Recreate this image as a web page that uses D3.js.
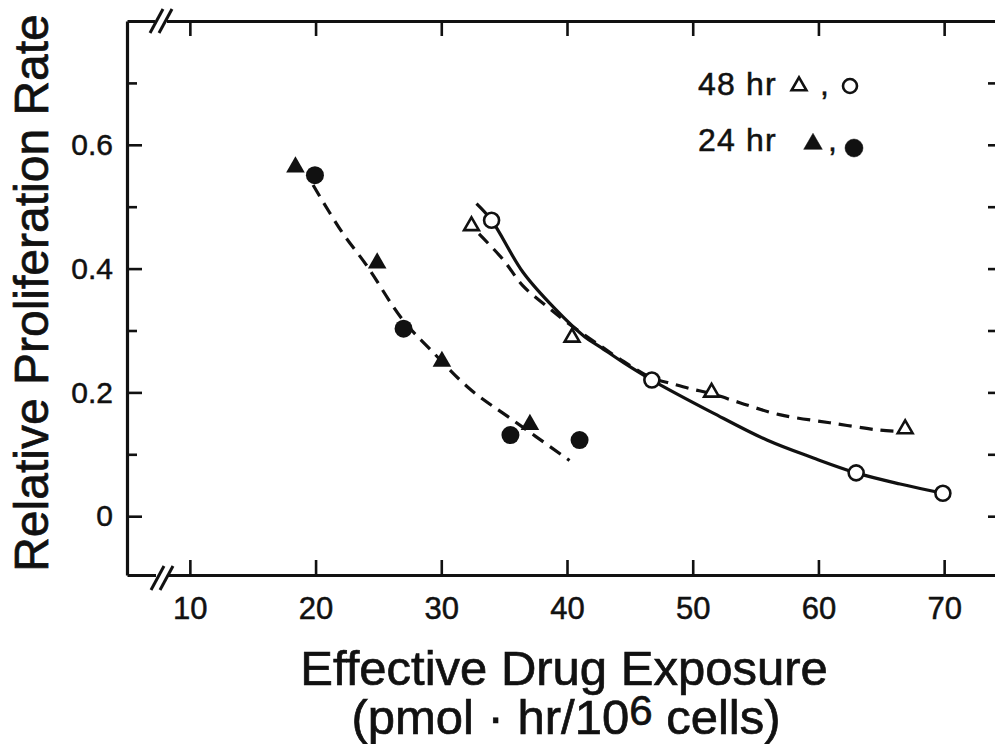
<!DOCTYPE html>
<html>
<head>
<meta charset="utf-8">
<script src="https://cdn.jsdelivr.net/npm/d3@7"></script>
<style>
  html, body { margin: 0; padding: 0; background: #fff; }
  svg { display: block; }
  text { font-family: "Liberation Sans", Arial, Helvetica, sans-serif; fill: #111; }
</style>
</head>
<body>
<svg id="chart" width="995" height="744"></svg>
<script>
// Measured points: 24 hr and 48 hr exposures
const h24Triangles = [[18.4, 0.564], [24.9, 0.409], [30.05, 0.25], [37.05, 0.148]];
const h24Circles   = [[19.95, 0.551], [27.0, 0.303], [35.5, 0.131], [41.0, 0.123]];
const h48Triangles = [[32.4, 0.469], [40.4, 0.289], [51.5, 0.2], [66.9, 0.141]];
const h48Circles   = [[34.0, 0.478], [46.75, 0.22], [63.0, 0.07], [69.9, 0.037]];

// Hand-fitted trend curves
const h24Curve = [[19.8, 0.535], [22.1, 0.459], [24.1, 0.404], [26.9, 0.318], [29.1, 0.27],
                  [32.3, 0.205], [35.5, 0.158], [40.2, 0.09]];
const h48SolidCurve = [[32.8, 0.505], [34.0, 0.478], [36.5, 0.394], [39.0, 0.336], [41.4, 0.29],
                       [42.6, 0.274], [44.5, 0.248], [46.75, 0.22], [51.6, 0.167], [55.9, 0.123],
                       [59.6, 0.094], [63.0, 0.07], [66.5, 0.052], [69.9, 0.037]];
const h48DashedCurve = [[33.0, 0.456], [34.9, 0.415], [36.5, 0.372], [38.4, 0.339], [40.0, 0.313],
                        [42.6, 0.276], [44.5, 0.25], [46.75, 0.223], [48.0, 0.216], [49.8, 0.206],
                        [51.5, 0.198], [53.8, 0.183], [56.9, 0.164], [60.9, 0.151], [64.9, 0.139],
                        [66.6, 0.137]];

// Axis ticks
const xTickValues = [10, 20, 30, 40, 50, 60, 70];
const yMajorTicks = [0, 0.2, 0.4, 0.6];
const yMinorTicks = [0.1, 0.3, 0.5, 0.7];
const yTickLabels = ["0", "0.2", "0.4", "0.6"];

const svg = d3.select("#chart");

const x = d3.scaleLinear().domain([5, 75]).range([127, 1007]);
const y = d3.scaleLinear().domain([-0.095, 0.8]).range([575, 21]);

const frame = svg.append("g");
const ink = "#111";

function styleAxis(g, width) {
  g.select(".domain").attr("stroke", ink).attr("stroke-width", width);
  g.selectAll(".tick line").attr("stroke", ink).attr("stroke-width", 2.6);
}
function styleLabels(sel, size) {
  sel.attr("font-size", size).attr("fill", ink)
    .attr("stroke", ink).attr("stroke-width", 0.5)
    .style("font-family", "Liberation Sans, Arial, sans-serif");
}

// Bottom axis with labels
const bottomAxis = frame.append("g")
  .attr("transform", `translate(0,${y.range()[0]})`)
  .call(d3.axisBottom(x).tickValues(xTickValues).tickSize(-15).tickSizeOuter(0)
        .tickFormat(d3.format("d")));
styleAxis(bottomAxis, 3.2);
styleLabels(bottomAxis.selectAll(".tick text").attr("dy", 0).attr("y", 44), 31);

// Top axis, ticks only
const topAxis = frame.append("g")
  .attr("transform", `translate(0,${y.range()[1]})`)
  .call(d3.axisTop(x).tickValues(xTickValues).tickSize(-15).tickSizeOuter(0).tickFormat(""));
styleAxis(topAxis, 3.2);

// Left axis: labelled major ticks, shorter minor ticks
const leftAxis = frame.append("g")
  .attr("transform", `translate(${x.range()[0]},0)`)
  .call(d3.axisLeft(y).tickValues(yMajorTicks).tickSize(-15).tickSizeOuter(0).tickPadding(14)
        .tickFormat((d, i) => yTickLabels[i]));
styleAxis(leftAxis, 3.2);
styleLabels(leftAxis.selectAll(".tick text"), 30);
const leftMinor = frame.append("g")
  .attr("transform", `translate(${x.range()[0]},0)`)
  .call(d3.axisLeft(y).tickValues(yMinorTicks).tickSize(-10).tickSizeOuter(0).tickFormat(""));
styleAxis(leftMinor, 0);
leftMinor.select(".domain").remove();

// Right edge ticks
const rightAxis = frame.append("g")
  .attr("transform", `translate(999,0)`)
  .call(d3.axisRight(y).tickValues(yMajorTicks.concat(yMinorTicks)).tickSize(-11).tickSizeOuter(0).tickFormat(""));
styleAxis(rightAxis, 3.2);

// Axis break marks
function breakMark(cx, cy) {
  const g = frame.append("g");
  g.append("rect").attr("x", cx - 6).attr("y", cy - 4).attr("width", 12).attr("height", 8).attr("fill", "#fff");
  [-4.5, 4.5].forEach(o => {
    g.append("line")
      .attr("x1", cx + o - 6.5).attr("y1", cy + 12)
      .attr("x2", cx + o + 6.5).attr("y2", cy - 12)
      .attr("stroke", ink).attr("stroke-width", 3);
  });
}
breakMark(161, y.range()[1]);
breakMark(162, y.range()[0] + 3);

// Trend curves
const line = d3.line().x(d => x(d[0])).y(d => y(d[1])).curve(d3.curveCatmullRom.alpha(0.5));
const curves = svg.append("g").attr("fill", "none").attr("stroke", ink).attr("stroke-width", 3.2);
curves.append("path").datum(h24Curve).attr("d", line).attr("stroke-dasharray", "13,8");
curves.append("path").datum(h48DashedCurve).attr("d", line).attr("stroke-dasharray", "13,8");
curves.append("path").datum(h48SolidCurve).attr("d", line);

// Markers
const triFilled = d3.symbol().type(d3.symbolTriangle).size(150);
const triOpen = d3.symbol().type(d3.symbolTriangle).size(95);
const marks = svg.append("g");

marks.selectAll(".h24t").data(h24Triangles).join("path")
  .attr("transform", d => `translate(${x(d[0])},${y(d[1])})`)
  .attr("d", triFilled).attr("fill", ink);
marks.selectAll(".h24c").data(h24Circles).join("circle")
  .attr("cx", d => x(d[0])).attr("cy", d => y(d[1])).attr("r", 9).attr("fill", ink);
marks.selectAll(".h48t").data(h48Triangles).join("path")
  .attr("transform", d => `translate(${x(d[0])},${y(d[1])})`)
  .attr("d", triOpen).attr("fill", "#fff").attr("stroke", ink).attr("stroke-width", 2.6);
marks.selectAll(".h48c").data(h48Circles).join("circle")
  .attr("cx", d => x(d[0])).attr("cy", d => y(d[1])).attr("r", 7.5)
  .attr("fill", "#fff").attr("stroke", ink).attr("stroke-width", 2.6);

// Legend
const legend = svg.append("g").attr("font-size", 32).attr("letter-spacing", 1.2)
  .attr("stroke", ink).attr("stroke-width", 0.5);
legend.append("text").attr("x", 698).attr("y", 95).text("48 hr");
legend.append("path").attr("transform", "translate(799,86)").attr("d", triOpen)
  .attr("fill", "#fff").attr("stroke", ink).attr("stroke-width", 2.6);
legend.append("text").attr("x", 820).attr("y", 95).text(",");
legend.append("circle").attr("cx", 850).attr("cy", 86).attr("r", 7)
  .attr("fill", "#fff").attr("stroke", ink).attr("stroke-width", 2.6);
legend.append("text").attr("x", 698).attr("y", 151).text("24 hr");
legend.append("path").attr("transform", "translate(813,144)").attr("d", triFilled).attr("fill", ink);
legend.append("text").attr("x", 828).attr("y", 151).text(",");
legend.append("circle").attr("cx", 854).attr("cy", 148).attr("r", 9).attr("fill", ink);

// Axis titles
const titles = svg.append("g").attr("stroke", ink).attr("stroke-width", 0.7);
titles.append("text")
  .attr("transform", "translate(48,293) rotate(-90)")
  .attr("text-anchor", "middle").attr("font-size", 48)
  .text("Relative Proliferation Rate");

titles.append("text")
  .attr("x", 564).attr("y", 685)
  .attr("text-anchor", "middle").attr("font-size", 49)
  .text("Effective Drug Exposure");

const unit = titles.append("text")
  .attr("x", 566).attr("y", 734)
  .attr("text-anchor", "middle").attr("font-size", 49);
unit.append("tspan").text("(pmol \u00b7 hr/10");
unit.append("tspan").attr("dy", -9).attr("font-size", 42).text("6");
unit.append("tspan").attr("dy", 9).text(" cells)");
</script>
</body>
</html>
